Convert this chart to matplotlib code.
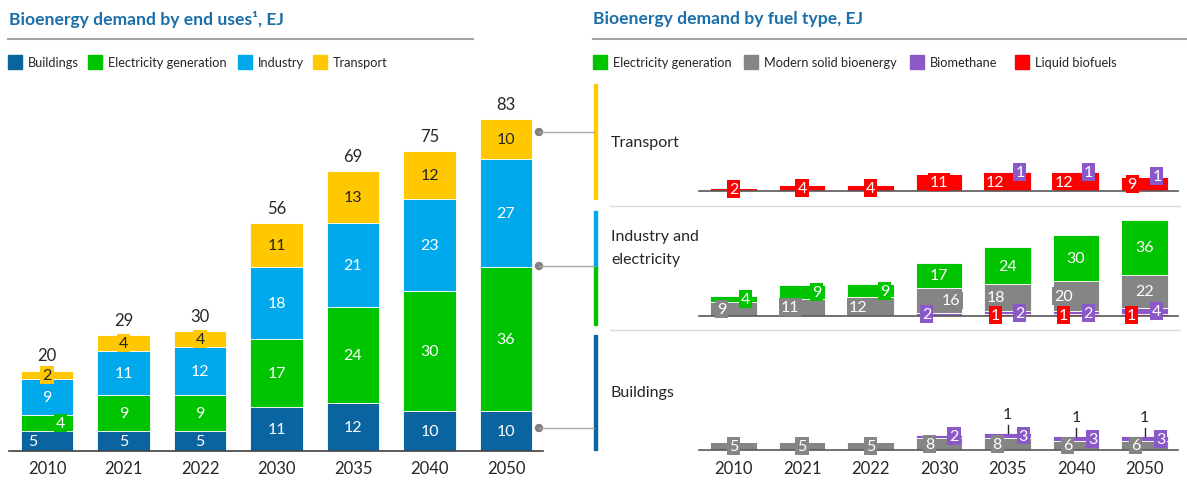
import matplotlib
matplotlib.use('Agg')
import matplotlib.pyplot as plt
import matplotlib.transforms as mtransforms
from matplotlib.patches import Rectangle, Circle
from matplotlib.lines import Line2D
import numpy as np

years = ['2010', '2021', '2022', '2030', '2035', '2040', '2050']

# left: bioenergy demand by end use, EJ
buildings = [5, 5, 5, 11, 12, 10, 10]
electricity = [4, 9, 9, 17, 24, 30, 36]
industry = [9, 11, 12, 18, 21, 23, 27]
transport = [2, 4, 4, 11, 13, 12, 10]
totals = [20, 29, 30, 56, 69, 75, 83]

# right: bioenergy demand by fuel type, EJ
tr_liquid = [2, 4, 4, 11, 12, 12, 9]
tr_biomethane = [0, 0, 0, 0, 1, 1, 1]
ind_liquid = [0, 0, 0, 0, 1, 1, 1]
ind_biomethane = [0, 0, 0, 2, 2, 2, 4]
ind_solid = [9, 11, 12, 16, 18, 20, 22]
ind_elec = [4, 9, 9, 17, 24, 30, 36]
bld_solid = [5, 5, 5, 8, 8, 6, 6]
bld_biomethane = [0, 0, 0, 2, 3, 3, 3]
bld_other = [0, 0, 0, 0, 1, 1, 1]

BLD = '#0a64a0'
ELEC = '#00c400'
IND = '#00a9ec'
TRN = '#ffc800'
SOLID = '#858585'
BIOM = '#8b58c8'
LIQ = '#ff0000'
TITLE = '#1b6fa8'
TEXT = '#262626'

W, H = 1187, 481
plt.rcParams['font.family'] = ['Lato', 'DejaVu Sans']

fig = plt.figure(figsize=(W / 100, H / 100), dpi=100)
# pixel coords, origin top-left, for the decorations
T = mtransforms.Affine2D().scale(1 / W, -1 / H).translate(0, 1) + fig.transFigure


def make_axes(x0, x1, base, top, scale):
    ax = fig.add_axes([x0 / W, (H - base) / H, (x1 - x0) / W, (base - top) / H])
    ax.set_ylim(0, (base - top) / scale)
    ax.patch.set_alpha(0)
    for s in ['top', 'right', 'left']:
        ax.spines[s].set_visible(False)
    ax.set_yticks([])
    return ax


def stack(ax, x, width, parts):
    bottom = np.zeros(len(x))
    for vals, col, dxs, tc in parts:
        vals = np.array(vals, dtype=float)
        ax.bar(x, vals, width, bottom=bottom, color=col, edgecolor='white',
               linewidth=0.6, zorder=2)
        for i, v in enumerate(vals):
            if v == 0:
                continue
            ax.text(x[i] + dxs[i], bottom[i] + v / 2, '%d' % v, ha='center', va='center',
                    color=tc, fontsize=11.5, zorder=4, clip_on=False,
                    bbox=dict(boxstyle='square,pad=0.12', fc=col, ec='none'))
        bottom += vals
    return bottom


x = np.arange(len(years))
zero = [0] * 7

# ---- left chart ----
axl = make_axes(9, 543, 451.7, 90, 4.0)
axl.set_xlim((9 - 47) / 76.5, (543 - 47) / 76.5)
axl.spines['bottom'].set_color('#404040')
axl.spines['bottom'].set_linewidth(1.2)
tops = stack(axl, x, 0.69, [
    (buildings, BLD, [-0.18, 0, 0, 0, 0, 0, 0], 'white'),
    (electricity, ELEC, [0.18, 0, 0, 0, 0, 0, 0], 'white'),
    (industry, IND, zero, 'white'),
    (transport, TRN, zero, TEXT),
])
for i, t in enumerate(totals):
    axl.text(x[i], tops[i] + 3.8, str(t), ha='center', va='center', fontsize=12, color=TEXT)
axl.set_xticks(x, years)
axl.tick_params(axis='x', length=0, pad=7, labelsize=12, labelcolor=TEXT)

# ---- right chart ----
rx0, rx1 = 699, 1178
sc = 1.52


def right_axes(base, top):
    ax = make_axes(rx0, rx1, base, top, sc)
    ax.set_xlim((rx0 - 733.5) / 68.5, (rx1 - 733.5) / 68.5)
    ax.spines['bottom'].set_color('#595959')
    ax.spines['bottom'].set_linewidth(1.2)
    ax.set_xticks([])
    return ax


axt = right_axes(191.7, 150)
stack(axt, x, 0.686, [
    (tr_liquid, LIQ, [0, 0, 0, 0, -0.18, -0.18, -0.18], 'white'),
    (tr_biomethane, BIOM, [0, 0, 0, 0, 0.18, 0.18, 0.18], 'white'),
])

axi = right_axes(316.7, 215)
stack(axi, x, 0.686, [
    (ind_liquid, LIQ, [0, 0, 0, 0, -0.18, -0.18, -0.19], 'white'),
    (ind_biomethane, BIOM, [0, 0, 0, -0.18, 0.18, 0.18, 0.18], 'white'),
    (ind_solid, SOLID, [-0.17, -0.17, -0.18, 0.18, -0.17, -0.18, 0], 'white'),
    (ind_elec, ELEC, [0.18, 0.21, 0.21, 0, 0, 0, 0], 'white'),
])

axb = right_axes(451, 400)
btops = stack(axb, x, 0.686, [
    (bld_solid, SOLID, [0, 0, 0, -0.14, -0.15, -0.12, -0.13], 'white'),
    (bld_biomethane, BIOM, [0, 0, 0, 0.22, 0.23, 0.24, 0.24], 'white'),
])
for i, v in enumerate(bld_other):
    if v:
        axb.plot([x[i], x[i]], [btops[i] + 0.5, btops[i] + 5.5], color=TEXT, lw=1, zorder=3)
        axb.text(x[i], btops[i] + 12.5, str(v), ha='center', va='center', fontsize=11.5,
                 color=TEXT, clip_on=False)
axb.set_xticks(x, years)
axb.tick_params(axis='x', length=0, pad=7.5, labelsize=12, labelcolor=TEXT)

# ---- titles, rules, legends ----
fig.text(9, 19, 'Bioenergy demand by end uses\u00b9, EJ', transform=T, fontsize=12.6,
         fontweight='bold', color=TITLE, va='center')
fig.text(593, 19, 'Bioenergy demand by fuel type, EJ', transform=T, fontsize=12.6,
         fontweight='bold', color=TITLE, va='center')
fig.add_artist(Line2D([8, 473], [40, 40], transform=T, color='#a6a6a6', lw=1.5))
fig.add_artist(Line2D([593, 1187], [40, 40], transform=T, color='#a6a6a6', lw=1.5))

legend_left = [(8, 'Buildings', BLD), (88, 'Electricity generation', ELEC),
               (238, 'Industry', IND), (313, 'Transport', TRN)]
legend_right = [(593, 'Electricity generation', ELEC), (744, 'Modern solid bioenergy', SOLID),
                (910, 'Biomethane', BIOM), (1015, 'Liquid biofuels', LIQ)]
for lx, name, col in legend_left + legend_right:
    fig.add_artist(Rectangle((lx, 56), 14, 14, transform=T, color=col))
    fig.text(lx + 20, 63, name, transform=T, fontsize=9.2, color=TEXT, va='center')

# section markers on the right
sections = [(85, 200, TRN), (212, 268, IND), (268, 326, ELEC), (336, 451, BLD)]
for y0, y1, col in sections:
    fig.add_artist(Rectangle((594, y0), 3.3, y1 - y0, transform=T, color=col))
for cy in [133, 267, 429]:
    fig.add_artist(Line2D([539, 594], [cy, cy], transform=T, color='#a6a6a6', lw=1))
    fig.add_artist(Circle((539, cy), 3.5, transform=T, color='#808080'))
for sy in [207.3, 331]:
    fig.add_artist(Line2D([610, 1180], [sy, sy], transform=T, color='#d9d9d9', lw=1))

fig.text(611, 143, 'Transport', transform=T, fontsize=11.5, color=TEXT, va='center')
fig.text(611, 237, 'Industry and', transform=T, fontsize=11.5, color=TEXT, va='center')
fig.text(611, 260, 'electricity', transform=T, fontsize=11.5, color=TEXT, va='center')
fig.text(611, 393, 'Buildings', transform=T, fontsize=11.5, color=TEXT, va='center')

fig.savefig('out.png', dpi=100, facecolor='white')
